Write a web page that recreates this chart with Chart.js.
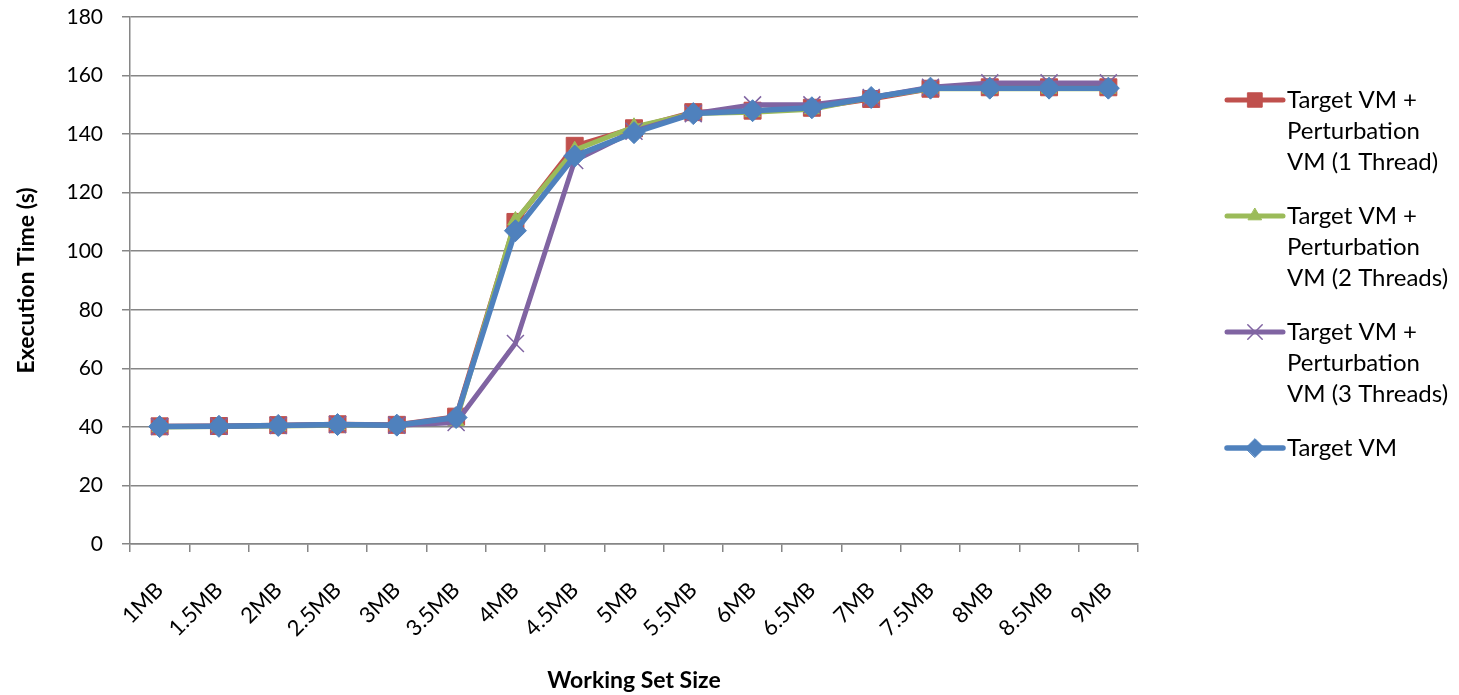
<!DOCTYPE html>
<html>
<head>
<meta charset="utf-8">
<script src="https://cdn.jsdelivr.net/npm/chart.js@4.4.1/dist/chart.umd.min.js"></script>
<style>
  html, body { margin: 0; padding: 0; background: #fff; }
  #wrap { position: relative; width: 1459px; height: 695px; }
</style>
</head>
<body>
<div id="wrap"><canvas id="chart" width="1459" height="695"></canvas></div>
<script>
// Working set sizes on the x axis
const categories = ['1MB', '1.5MB', '2MB', '2.5MB', '3MB', '3.5MB', '4MB', '4.5MB', '5MB',
  '5.5MB', '6MB', '6.5MB', '7MB', '7.5MB', '8MB', '8.5MB', '9MB'];

// Execution time (s)
const oneThread   = [40.2, 40.3, 40.6, 40.9, 40.7, 43.5, 110, 136, 142, 147.5, 148, 149, 152, 155.5, 156, 156, 156];
const twoThreads  = [40.0, 40.1, 40.3, 40.6, 40.5, 42.0, 110.5, 134.5, 142.5, 147, 147.5, 148.5, 152.5, 155.5, 155.5, 155.5, 155.5];
const threeThreads = [40.1, 40.2, 40.5, 40.8, 40.6, 41.5, 68.5, 131, 141, 147, 150, 150, 152.5, 156, 157.5, 157.5, 157.5];
const targetOnly  = [40.1, 40.2, 40.5, 40.8, 40.6, 43.2, 107, 132.5, 140.5, 147, 148, 149, 152.5, 155.7, 155.7, 155.7, 155.7];

const yTicks = [0, 20, 40, 60, 80, 100, 120, 140, 160, 180];

const FONT = 'Lato, "Open Sans", sans-serif';

function series(label, lines, data, color, style, radius, width, order) {
  return {
    label, legendLines: lines, data, order,
    borderColor: color, backgroundColor: color,
    pointStyle: style, pointRadius: radius, pointHoverRadius: radius,
    pointBorderColor: color, pointBackgroundColor: color,
    pointBorderWidth: style === 'crossRot' ? 1.5 : 1,
    borderWidth: width, tension: 0
  };
}

// lower order is painted last, so the plain Target VM line sits on top
const datasets = [
  series('Target VM + Perturbation VM (1 Thread)', ['Target VM +', 'Perturbation', 'VM (1 Thread)'],
    oneThread, '#C0504D', 'rect', 12, 5, 3),
  series('Target VM + Perturbation VM (2 Threads)', ['Target VM +', 'Perturbation', 'VM (2 Threads)'],
    twoThreads, '#9BBB59', 'triangle', 9, 5, 2),
  series('Target VM + Perturbation VM (3 Threads)', ['Target VM +', 'Perturbation', 'VM (3 Threads)'],
    threeThreads, '#8064A2', 'crossRot', 12, 5, 1),
  series('Target VM', ['Target VM'], targetOnly, '#4F81BD', 'rectRot', 11, 5.5, 0)
];

// legend drawn by hand so the long labels can wrap like the original
const sideLegend = {
  id: 'sideLegend',
  afterDraw(chart) {
    const ctx = chart.ctx;
    const x0 = 1227, x1 = 1283, tx = 1287;
    let y = 100;
    ctx.save();
    ctx.font = '24px ' + FONT;
    ctx.textBaseline = 'middle';
    chart.data.datasets.forEach(ds => {
      ctx.strokeStyle = ds.borderColor;
      ctx.lineWidth = ds.borderWidth;
      ctx.lineCap = 'round';
      ctx.beginPath();
      ctx.moveTo(x0, y);
      ctx.lineTo(x1, y);
      ctx.stroke();
      ctx.fillStyle = ds.borderColor;
      ctx.lineWidth = ds.pointBorderWidth;
      Chart.helpers.drawPoint(ctx, {
        pointStyle: ds.pointStyle, radius: ds.pointRadius * 0.85, rotation: 0,
        borderWidth: ds.pointBorderWidth
      }, (x0 + x1) / 2, y);
      ctx.fillStyle = '#000';
      ds.legendLines.forEach((line, i) => ctx.fillText(line, tx, y + i * 31));
      y += ds.legendLines.length * 31 + 23;
    });
    ctx.restore();
  }
};

new Chart(document.getElementById('chart'), {
  type: 'line',
  data: { labels: categories, datasets },
  plugins: [sideLegend],
  options: {
    responsive: false,
    animation: false,
    devicePixelRatio: 1,
    layout: { padding: { top: 17, right: 321, left: 9, bottom: 0 } },
    plugins: { legend: { display: false }, tooltip: { enabled: false } },
    scales: {
      x: {
        offset: true,
        afterFit(s) { s.height = 151; s.paddingLeft = 0; s.paddingRight = 0; },
        grid: { offset: true, drawOnChartArea: false, drawTicks: true, tickLength: 8, color: '#868686', lineWidth: 1.5 },
        border: { color: '#868686', width: 1.5 },
        ticks: { color: '#000', font: { family: FONT, size: 22 }, minRotation: 45, maxRotation: 45, padding: 25 },
        title: { display: true, text: 'Working Set Size', color: '#000', font: { family: FONT, size: 23, weight: 'bold' }, padding: { top: 4, bottom: 1 } }
      },
      y: {
        min: 0, max: 180,
        afterBuildTicks(axis) { axis.ticks = yTicks.map(v => ({ value: v })); },
        afterFit(s) { s.width = 121; s.paddingTop = 0; s.paddingBottom = 0; },
        grid: { color: '#868686', lineWidth: 1.5, drawTicks: true, tickLength: 8 },
        border: { color: '#868686', width: 1.5 },
        ticks: { color: '#000', font: { family: FONT, size: 21 }, padding: 19 },
        title: { display: true, text: 'Execution Time (s)', color: '#000', font: { family: FONT, size: 23, weight: 'bold' }, padding: { top: 4, bottom: 4 } }
      }
    }
  }
});
</script>
</body>
</html>
